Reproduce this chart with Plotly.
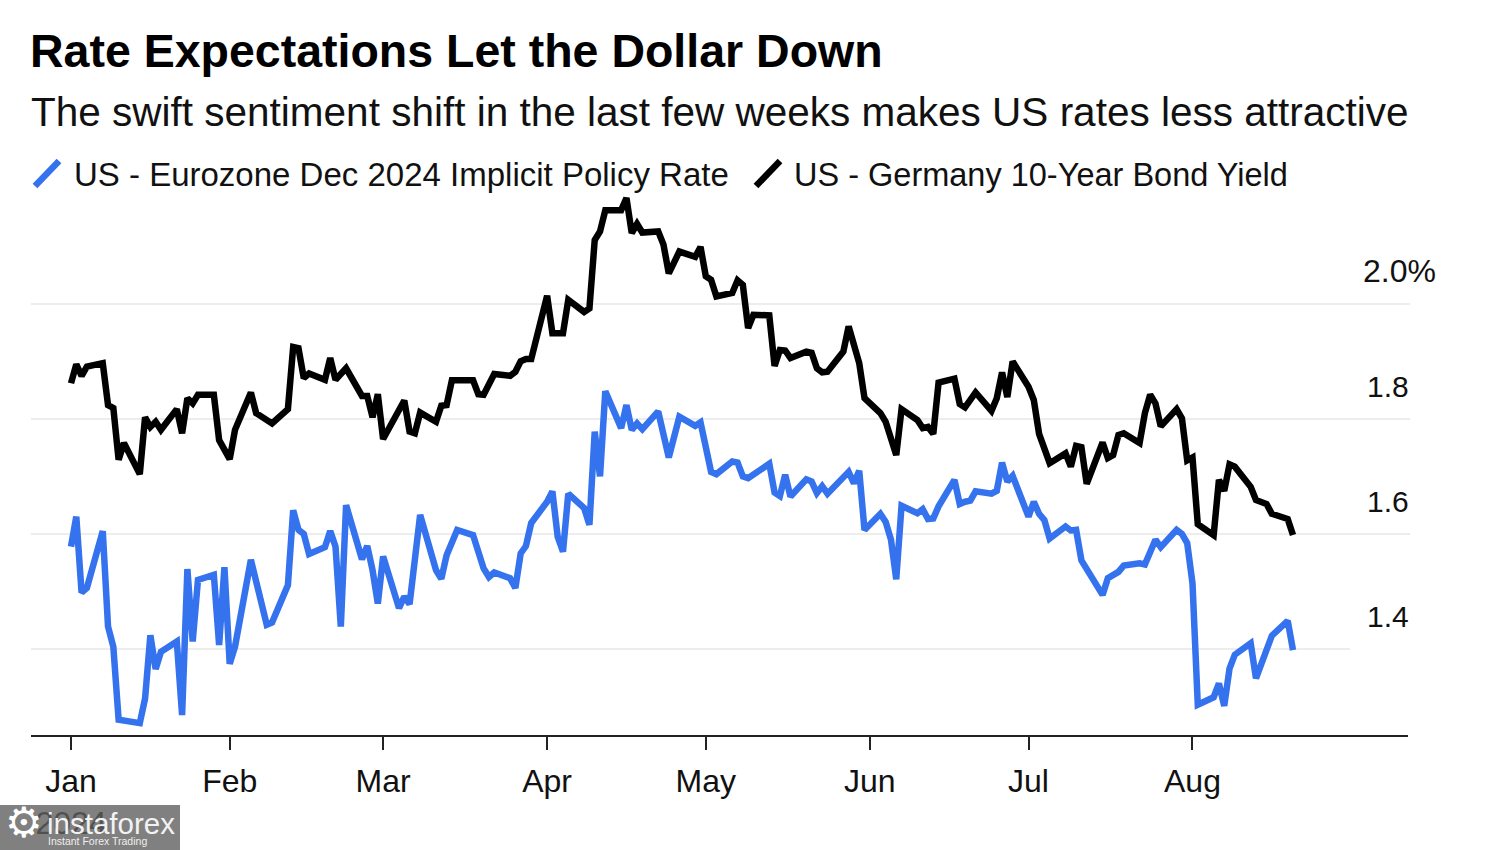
import plotly.graph_objects as go

TITLE = "Rate Expectations Let the Dollar Down"
SUBTITLE = "The swift sentiment shift in the last few weeks makes US rates less attractive"
BLUE_NAME = "US - Eurozone Dec 2024 Implicit Policy Rate"
BLACK_NAME = "US - Germany 10-Year Bond Yield"

tick_dates = ["2024-01-02", "2024-02-01", "2024-03-01", "2024-04-01", "2024-05-01", "2024-06-01", "2024-07-01", "2024-08-01"]
tick_labels = ["Jan<br>2024", "Feb", "Mar", "Apr", "May", "Jun", "Jul", "Aug"]
grid_values = [2.0, 1.8, 1.6, 1.4]
grid_labels = ["2.0%", "1.8", "1.6", "1.4"]

black_dates = ["01-02","01-03","01-04","01-05","01-08","01-09","01-10","01-11","01-12","01-15","01-16","01-17","01-18","01-19","01-22","01-23","01-24","01-25","01-26","01-29","01-30","02-01","02-02","02-05","02-06","02-09","02-12","02-13","02-14","02-15","02-16","02-19","02-20","02-21","02-23","02-26","02-27","02-28","02-29","03-01","03-05","03-06","03-07","03-08","03-11","03-12","03-13","03-14","03-18","03-19","03-20","03-22","03-25","03-26","03-27","03-28","03-29","04-01","04-02","04-04","04-05","04-08","04-09","04-10","04-11","04-12","04-15","04-16","04-17","04-18","04-19","04-22","04-23","04-24","04-26","04-29","04-30","05-01","05-02","05-03","05-06","05-07","05-08","05-09","05-10","05-13","05-14","05-15","05-16","05-17","05-20","05-21","05-22","05-23","05-24","05-27","05-28","05-30","05-31","06-03","06-04","06-06","06-07","06-10","06-11","06-12","06-13","06-14","06-17","06-18","06-19","06-21","06-24","06-25","06-26","06-27","06-28","07-01","07-02","07-03","07-05","07-08","07-09","07-10","07-11","07-12","07-15","07-16","07-17","07-18","07-19","07-22","07-23","07-24","07-25","07-26","07-29","07-30","07-31","08-01","08-02","08-05","08-06","08-07","08-08","08-09","08-12","08-13","08-15","08-16","08-19","08-20"]
black_values = [1.862,1.895,1.875,1.891,1.897,1.824,1.819,1.729,1.758,1.704,1.803,1.786,1.795,1.781,1.817,1.775,1.836,1.827,1.842,1.842,1.763,1.730,1.781,1.846,1.810,1.792,1.817,1.925,1.923,1.871,1.879,1.868,1.906,1.868,1.888,1.840,1.840,1.803,1.843,1.765,1.832,1.778,1.775,1.811,1.795,1.823,1.824,1.867,1.867,1.843,1.842,1.878,1.875,1.882,1.900,1.904,1.904,2.014,1.949,1.949,2.007,1.986,1.992,2.111,2.126,2.163,2.163,2.184,2.123,2.139,2.124,2.126,2.103,2.053,2.091,2.082,2.099,2.048,2.042,2.013,2.019,2.041,2.033,1.958,1.981,1.980,1.892,1.920,1.919,1.906,1.917,1.915,1.888,1.881,1.882,1.917,1.961,1.897,1.836,1.810,1.795,1.737,1.817,1.798,1.784,1.786,1.774,1.863,1.870,1.826,1.820,1.846,1.814,1.836,1.881,1.838,1.900,1.856,1.833,1.774,1.723,1.740,1.717,1.753,1.751,1.687,1.759,1.732,1.737,1.772,1.775,1.758,1.810,1.842,1.827,1.787,1.817,1.801,1.728,1.733,1.617,1.598,1.694,1.675,1.721,1.717,1.682,1.659,1.652,1.635,1.626,1.598]

blue_dates = ["01-02","01-03","01-04","01-05","01-08","01-09","01-10","01-11","01-15","01-16","01-17","01-18","01-19","01-22","01-23","01-24","01-25","01-26","01-29","01-30","01-31","02-01","02-02","02-05","02-08","02-09","02-12","02-13","02-14","02-15","02-16","02-19","02-20","02-21","02-22","02-23","02-26","02-27","02-28","02-29","03-01","03-04","03-05","03-06","03-08","03-11","03-12","03-13","03-15","03-18","03-20","03-21","03-22","03-25","03-26","03-27","03-28","03-29","04-01","04-02","04-03","04-04","04-05","04-08","04-09","04-10","04-11","04-12","04-15","04-16","04-17","04-18","04-19","04-22","04-24","04-26","04-29","04-30","05-02","05-03","05-06","05-07","05-08","05-09","05-13","05-14","05-15","05-16","05-17","05-20","05-21","05-22","05-23","05-24","05-28","05-29","05-30","05-31","06-03","06-04","06-05","06-06","06-07","06-10","06-11","06-12","06-13","06-14","06-17","06-18","06-19","06-20","06-21","06-24","06-25","06-26","06-27","06-28","07-01","07-02","07-03","07-04","07-05","07-08","07-09","07-10","07-11","07-12","07-15","07-16","07-18","07-19","07-22","07-23","07-24","07-25","07-26","07-29","07-30","07-31","08-01","08-02","08-05","08-06","08-07","08-08","08-09","08-12","08-13","08-14","08-16","08-19","08-20"]
blue_values = [1.578,1.630,1.498,1.506,1.605,1.439,1.404,1.277,1.271,1.314,1.424,1.365,1.395,1.413,1.285,1.539,1.413,1.520,1.529,1.407,1.542,1.374,1.404,1.555,1.442,1.446,1.511,1.641,1.607,1.600,1.565,1.577,1.605,1.578,1.439,1.650,1.556,1.579,1.537,1.479,1.561,1.471,1.491,1.478,1.633,1.537,1.522,1.563,1.607,1.598,1.540,1.525,1.533,1.523,1.506,1.566,1.579,1.619,1.656,1.674,1.595,1.569,1.670,1.645,1.616,1.778,1.700,1.848,1.784,1.824,1.781,1.792,1.782,1.813,1.733,1.804,1.788,1.794,1.708,1.704,1.726,1.724,1.700,1.697,1.722,1.672,1.666,1.703,1.665,1.695,1.691,1.671,1.683,1.670,1.708,1.688,1.710,1.607,1.635,1.621,1.590,1.521,1.649,1.636,1.643,1.626,1.627,1.648,1.694,1.652,1.656,1.658,1.674,1.670,1.675,1.724,1.691,1.701,1.630,1.656,1.635,1.624,1.592,1.613,1.606,1.607,1.554,1.540,1.494,1.523,1.534,1.545,1.549,1.547,1.569,1.590,1.577,1.607,1.600,1.584,1.514,1.303,1.316,1.340,1.301,1.366,1.390,1.410,1.349,1.372,1.423,1.449,1.398]

BLUE = "#3572EE"
BLACK = "#000000"
INK = "#111111"
FONT = "Liberation Sans"
W, H = 1500, 850


def fx(px):
    return px / W


def fy(px):
    return 1 - px / H


fig = go.Figure()
fig.add_trace(go.Scatter(x=["2024-" + d for d in blue_dates], y=blue_values, name=BLUE_NAME,
                         mode="lines", line=dict(color=BLUE, width=6.5)))
fig.add_trace(go.Scatter(x=["2024-" + d for d in black_dates], y=black_values, name=BLACK_NAME,
                         mode="lines", line=dict(color=BLACK, width=6.5)))

shapes = []
for value in grid_values:
    end = 1350 if value == 1.4 else 1410
    shapes.append(dict(type="line", xref="paper", yref="y", x0=fx(31), x1=fx(end), y0=value, y1=value,
                       line=dict(color="#EDEDED", width=2), layer="below"))
for color, x0, x1 in [(BLUE, 35, 59), (BLACK, 756, 780)]:
    shapes.append(dict(type="line", xref="paper", yref="paper", x0=fx(x0), x1=fx(x1), y0=fy(186), y1=fy(161),
                       line=dict(color=color, width=6.5)))
shapes.append(dict(type="rect", xref="paper", yref="paper", x0=0, x1=fx(180), y0=0, y1=fy(805),
                   fillcolor="rgba(96,96,96,0.8)", line=dict(width=0), layer="above"))

annotations = [
    dict(text=SUBTITLE, x=fx(30), y=fy(112), font=dict(size=40.5, color=INK)),
    dict(text=BLUE_NAME, x=fx(72.5), y=fy(175), font=dict(size=33, color=INK)),
    dict(text=BLACK_NAME, x=fx(793), y=fy(175), font=dict(size=32.5, color=INK)),
    dict(text="⚙", x=fx(4), y=fy(822), font=dict(size=42, color="white", family="DejaVu Sans")),
    dict(text="instaforex", x=fx(46), y=fy(823), font=dict(size=29.5, color="#F2F2F2")),
    dict(text="Instant Forex Trading", x=fx(47), y=fy(841), font=dict(size=10.5, color="#EFEFEF")),
]
for value, label in zip(grid_values, grid_labels):
    pct = label.endswith("%")
    annotations.append(dict(text=label, xref="paper", yref="y", x=fx(1362) if pct else fx(1410), y=value,
                            xanchor="left" if pct else "right", yanchor="bottom", yshift=14 if pct else 15,
                            font=dict(size=32 if pct else 30, color=INK)))
for a in annotations:
    a.setdefault("xref", "paper")
    a.setdefault("yref", "paper")
    a.setdefault("xanchor", "left")
    a.setdefault("yanchor", "middle")
    a["showarrow"] = False
    a["borderpad"] = 0

fig.update_layout(
    width=W, height=H, margin=dict(l=0, r=0, t=0, b=0), showlegend=False,
    paper_bgcolor="white", plot_bgcolor="white", font=dict(family=FONT, color=INK),
    title=dict(text="<b>" + TITLE + "</b>", x=fx(30), xanchor="left", xref="paper",
               y=fy(51), yanchor="middle", yref="paper", font=dict(size=46.5, color="#000000", family=FONT)),
    shapes=shapes, annotations=annotations,
    xaxis=dict(type="date", domain=[fx(31), fx(1408)], range=["2023-12-25 10:30", "2024-09-10 17:45"],
               tickmode="array", tickvals=tick_dates, ticktext=tick_labels, ticks="outside", ticklen=13,
               tickwidth=2, tickcolor="#222222", showgrid=False, showline=True, linecolor="#222222", linewidth=2,
               zeroline=False, tickfont=dict(size=32, color=INK), ticklabelstandoff=4),
    yaxis=dict(domain=[fy(735), fy(190)], range=[1.2504, 2.198], showgrid=False, showticklabels=False,
               ticks="", zeroline=False, showline=False),
)
fig.write_html("out.html", config=dict(displayModeBar=False), post_script="document.body.style.margin='0';")
